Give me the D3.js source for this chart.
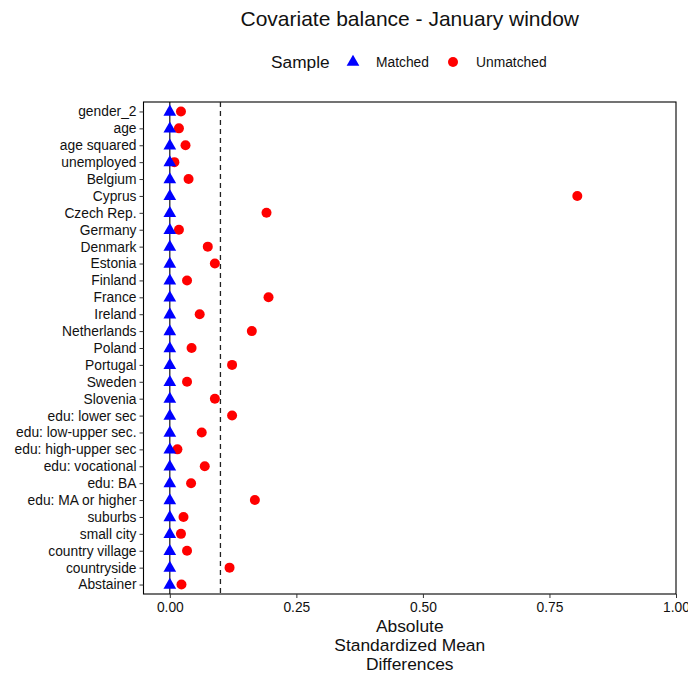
<!DOCTYPE html>
<html>
<head>
<meta charset="utf-8">
<script src="https://cdn.jsdelivr.net/npm/d3@7"></script>
<style>
  body { margin: 0; background: #fff; }
  text { font-family: "Liberation Sans", Arial, Helvetica, sans-serif; }
</style>
</head>
<body>
<svg width="688" height="675"></svg>
<script>
// covariates, top to bottom
const covariates = ['gender_2', 'age', 'age squared', 'unemployed', 'Belgium', 'Cyprus',
  'Czech Rep.', 'Germany', 'Denmark', 'Estonia', 'Finland', 'France', 'Ireland',
  'Netherlands', 'Poland', 'Portugal', 'Sweden', 'Slovenia', 'edu: lower sec',
  'edu: low-upper sec.', 'edu: high-upper sec', 'edu: vocational', 'edu: BA',
  'edu: MA or higher', 'suburbs', 'small city', 'country village', 'countryside', 'Abstainer'];

// absolute standardized mean differences
const unmatched = [0.022, 0.018, 0.031, 0.009, 0.037, 0.805, 0.191, 0.018, 0.075, 0.089,
  0.034, 0.195, 0.059, 0.162, 0.043, 0.123, 0.034, 0.089, 0.123, 0.063,
  0.015, 0.069, 0.042, 0.168, 0.027, 0.022, 0.034, 0.118, 0.023];
const matched = [0, 0, 0, 0, 0, 0, 0, 0, 0, 0, 0, 0, 0, 0, 0, 0, 0, 0, 0, 0,
  0, 0, 0, 0, 0, 0, 0, 0, 0];

const xTicks = [0, 0.25, 0.5, 0.75, 1];
const threshold = 0.1;

const svg = d3.select('svg');
const margin = { top: 102, right: 12, bottom: 81, left: 143.5 };
const width = +svg.attr('width');
const height = +svg.attr('height');
const innerWidth = width - margin.left - margin.right;
const innerHeight = height - margin.top - margin.bottom;

const g = svg.append('g')
  .attr('transform', `translate(${margin.left},${margin.top})`);

const x = d3.scaleLinear().domain([-0.052, 1]).range([0, innerWidth]);
const y = d3.scalePoint().domain(covariates).range([0, innerHeight]).padding(0.56);

// panel border
g.append('rect')
  .attr('width', innerWidth).attr('height', innerHeight)
  .attr('fill', 'none').attr('stroke', '#000').attr('stroke-width', 1.1);

// reference lines
g.append('line')
  .attr('x1', x(0)).attr('x2', x(0)).attr('y1', 0).attr('y2', innerHeight)
  .attr('stroke', '#000').attr('stroke-width', 1.1);
g.append('line')
  .attr('x1', x(threshold)).attr('x2', x(threshold)).attr('y1', 0).attr('y2', innerHeight)
  .attr('stroke', '#222').attr('stroke-width', 1.3).attr('stroke-dasharray', '5,4');

// axes
const xAxis = g.append('g')
  .attr('transform', `translate(0,${innerHeight})`)
  .call(d3.axisBottom(x).tickValues(xTicks).tickFormat(d3.format('.2f')).tickSizeOuter(0).tickSize(4).tickPadding(4));
const yAxis = g.append('g')
  .call(d3.axisLeft(y).tickSizeOuter(0).tickSize(4).tickPadding(3));
[xAxis, yAxis].forEach(a => {
  a.select('.domain').remove();
  a.selectAll('line').attr('stroke', '#333');
  a.selectAll('text').attr('fill', '#111').style('font-size', '13.8px');
});

// points
const rows = covariates.map((c, i) => ({ c, m: matched[i], u: unmatched[i] }));
g.selectAll('circle.unm').data(rows).enter().append('circle')
  .attr('class', 'unm')
  .attr('cx', d => x(d.u)).attr('cy', d => y(d.c))
  .attr('r', 5).attr('fill', '#ff0000');
const tri = d3.symbol().type(d3.symbolTriangle).size(70);
g.selectAll('path.mat').data(rows).enter().append('path')
  .attr('class', 'mat')
  .attr('d', tri)
  .attr('transform', d => `translate(${x(d.m)},${y(d.c) + 0.5})`)
  .attr('fill', '#0000ff');

// title
const cx = margin.left + innerWidth / 2;
svg.append('text')
  .attr('x', cx).attr('y', 26).attr('text-anchor', 'middle')
  .style('font-size', '21px').attr('fill', '#111')
  .text('Covariate balance - January window');

// legend
const leg = svg.append('g').attr('transform', 'translate(0,62)');
leg.append('text').attr('x', 271).attr('y', 6).style('font-size', '17.3px').attr('fill', '#111').text('Sample');
leg.append('path').attr('d', tri).attr('transform', 'translate(353,0)').attr('fill', '#0000ff');
leg.append('text').attr('x', 376).attr('y', 5).style('font-size', '13.8px').attr('fill', '#111').text('Matched');
leg.append('circle').attr('cx', 453).attr('cy', 0).attr('r', 5).attr('fill', '#ff0000');
leg.append('text').attr('x', 476).attr('y', 5).style('font-size', '13.8px').attr('fill', '#111').text('Unmatched');

// x axis title
['Absolute', 'Standardized Mean', 'Differences'].forEach((t, i) => {
  svg.append('text')
    .attr('x', cx).attr('y', 632 + i * 19).attr('text-anchor', 'middle')
    .style('font-size', '17.4px').attr('fill', '#111')
    .text(t);
});
</script>
</body>
</html>
